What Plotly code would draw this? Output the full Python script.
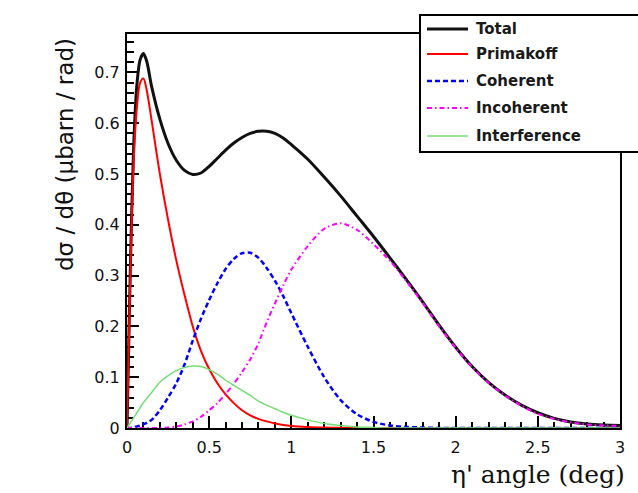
import plotly.graph_objects as go

# ---- data ----
angle_deg = [0, 0.02, 0.04, 0.06, 0.08, 0.1, 0.12, 0.15,
             0.2, 0.25, 0.3, 0.35, 0.4, 0.45, 0.5, 0.55, 0.6, 0.65, 0.7, 0.75,
             0.8, 0.85, 0.9, 0.95, 1.0,
             1.1, 1.2, 1.3, 1.4, 1.5, 1.6, 1.7, 1.8, 1.9, 2.0,
             2.1, 2.2, 2.3, 2.4, 2.5, 2.6, 2.7, 2.8, 2.9, 3.0]

total = [0, 0.31, 0.55, 0.675, 0.725, 0.737, 0.722, 0.672,
         0.608, 0.56, 0.527, 0.507, 0.499, 0.502, 0.515, 0.531, 0.547, 0.561, 0.572, 0.58,
         0.584, 0.584, 0.58, 0.571, 0.558,
         0.529, 0.494, 0.457, 0.417, 0.377, 0.335, 0.292, 0.248, 0.202, 0.159,
         0.121, 0.09, 0.065, 0.045, 0.03, 0.019, 0.012, 0.008, 0.006, 0.005]

primakoff = [0, 0.3, 0.52, 0.63, 0.68, 0.688, 0.665, 0.605,
             0.5, 0.41, 0.33, 0.262, 0.2, 0.152, 0.116, 0.088, 0.066, 0.049, 0.035, 0.025,
             0.018, 0.013, 0.009, 0.006, 0.004,
             0.002, 0.001, 0.0005, 0, 0, 0, 0, 0, 0, 0,
             0, 0, 0, 0, 0, 0, 0, 0, 0, 0]

coherent = [0, 0, 0.001, 0.003, 0.005, 0.007, 0.01, 0.016,
            0.035, 0.06, 0.088, 0.125, 0.172, 0.215, 0.252, 0.285, 0.313, 0.333, 0.344, 0.345,
            0.335, 0.315, 0.29, 0.26, 0.226,
            0.16, 0.1, 0.055, 0.027, 0.012, 0.005, 0.002, 0.001, 0, 0,
            0, 0, 0, 0, 0, 0, 0, 0, 0, 0]

incoherent = [0, 0, 0, 0, 0, 0, 0, 0,
              0, 0.001, 0.003, 0.007, 0.013, 0.022, 0.035, 0.049, 0.067, 0.087, 0.11, 0.135,
              0.167, 0.208, 0.245, 0.28, 0.312,
              0.358, 0.392, 0.403, 0.39, 0.362, 0.329, 0.289, 0.246, 0.2, 0.158,
              0.12, 0.089, 0.064, 0.044, 0.028, 0.018, 0.011, 0.007, 0.005, 0.004]

interference = [0, 0.01, 0.02, 0.03, 0.04, 0.05, 0.058, 0.07,
                0.09, 0.103, 0.113, 0.119, 0.122, 0.121, 0.115, 0.106, 0.094, 0.084, 0.074, 0.064,
                0.053, 0.045, 0.038, 0.031, 0.025,
                0.016, 0.009, 0.005, 0.002, 0.001, 0, 0, 0, 0, 0,
                0, 0, 0, 0, 0, 0, 0, 0, 0, 0]

series_names = ["Total", "Primakoff", "Coherent", "Incoherent", "Interference"]
series_values = [total, primakoff, coherent, incoherent, interference]

# ---- styles ----
styles = [
    dict(color="#111111", width=3, dash="solid"),
    dict(color="#ff0000", width=2, dash="solid"),
    dict(color="#0000ff", width=2.5, dash="5px,3px"),
    dict(color="#ff00ff", width=2, dash="5px,3px,1.5px,3px"),
    dict(color="#77dd77", width=1.5, dash="solid"),
]

W, H = 638, 493
L, R, T, B = 127, 620, 34, 428  # plot area in pixels


def px(xp):
    return (xp - L) / (R - L)


def py(yp):
    return (B - yp) / (B - T)


fig = go.Figure()
for name, vals, st in zip(series_names, series_values, styles):
    fig.add_trace(go.Scatter(
        x=angle_deg, y=vals, mode="lines", name=name,
        line=dict(color=st["color"], width=st["width"], dash=st["dash"],
                  shape="spline", smoothing=0.8),
        showlegend=False, hoverinfo="skip",
    ))

tickfont = dict(family="DejaVu Sans, sans-serif", size=16, color="#111111")

fig.update_layout(
    width=W, height=H,
    margin=dict(l=L, r=W - R, t=T, b=H - B, pad=0),
    paper_bgcolor="white", plot_bgcolor="white",
    xaxis=dict(
        range=[0, 3], tickmode="array", tickvals=[0, 0.5, 1, 1.5, 2, 2.5, 3],
        ticktext=["0", "0.5", "1", "1.5", "2", "2.5", "3"],
        ticks="inside", ticklen=12, tickwidth=1.5, tickcolor="black",
        minor=dict(dtick=0.1, ticks="inside", ticklen=6, tickwidth=1.5, tickcolor="black"),
        showline=True, linecolor="black", linewidth=2, mirror=True,
        showgrid=False, zeroline=False, tickfont=tickfont,
        ticklabelstandoff=4, layer="below traces",
    ),
    yaxis=dict(
        range=[0, 0.7756], tickmode="array",
        tickvals=[0, 0.1, 0.2, 0.3, 0.4, 0.5, 0.6, 0.7],
        ticktext=["0", "0.1", "0.2", "0.3", "0.4", "0.5", "0.6", "0.7"],
        ticks="inside", ticklen=12, tickwidth=1.5, tickcolor="black",
        minor=dict(dtick=0.02, ticks="inside", ticklen=7, tickwidth=1.5, tickcolor="black"),
        showline=True, linecolor="black", linewidth=2, mirror=True,
        showgrid=False, zeroline=False, tickfont=tickfont,
        ticklabelstandoff=2, layer="below traces",
    ),
)

# axis titles
fig.add_annotation(
    text="η' angle (deg)", xref="paper", yref="paper", x=px(627), y=py(474),
    xanchor="right", yanchor="middle", showarrow=False,
    font=dict(family="DejaVu Serif, serif", size=25, color="#111111"),
)
fig.add_annotation(
    text="dσ / dθ (μbarn / rad)", xref="paper", yref="paper", x=px(65), y=py(155),
    xanchor="center", yanchor="middle", textangle=-90, showarrow=False,
    font=dict(family="DejaVu Sans, sans-serif", size=23, color="#111111"),
)

# legend box (drawn manually, ROOT style)
fig.add_shape(type="rect", xref="paper", yref="paper",
              x0=px(420), x1=px(660), y0=py(152), y1=py(15),
              fillcolor="white", line=dict(color="black", width=2), layer="above")
row_y = [29, 54, 81, 108, 136]
for name, st, yy in zip(series_names, styles, row_y):
    fig.add_shape(type="line", xref="paper", yref="paper",
                  x0=px(427), x1=px(468), y0=py(yy), y1=py(yy),
                  line=dict(color=st["color"], width=st["width"], dash=st["dash"]),
                  layer="above")
    fig.add_annotation(
        text=f"<b>{name}</b>", xref="paper", yref="paper", x=px(474), y=py(yy),
        xanchor="left", yanchor="middle", showarrow=False,
        font=dict(family="DejaVu Sans, sans-serif", size=15, color="#1a1a1a"),
    )

fig.write_html(
    "out.html",
    config={"displayModeBar": False},
    post_script="document.body.style.margin='0';document.body.style.padding='0';",
)
